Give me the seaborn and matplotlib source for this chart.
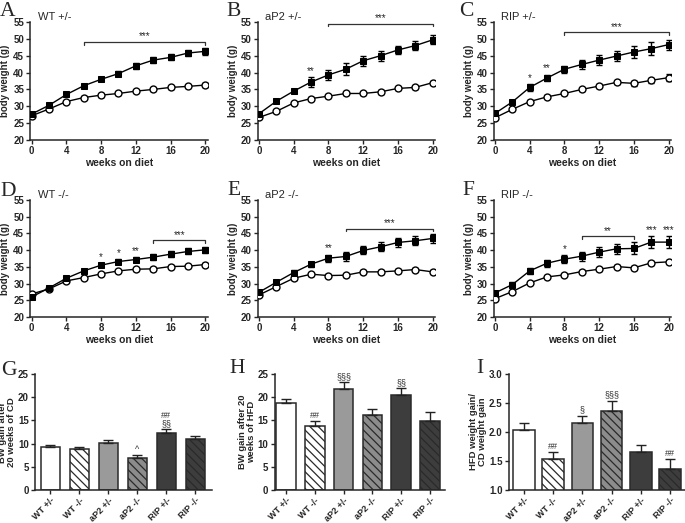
import matplotlib
matplotlib.use("Agg")
import matplotlib.pyplot as plt
import seaborn as sns
import pandas as pd

# weeks on diet (x axis of panels A-F)
weeks = [0, 2, 4, 6, 8, 10, 12, 14, 16, 18, 20]

# body weight (g), HFD = filled squares, CD = open circles
wt_het_hfd = [27.7, 30.3, 33.5, 36.1, 38.0, 39.7, 42.0, 43.7, 44.5, 45.8, 46.3]
wt_het_hfd_sem = [0.4, 0.5, 0.5, 0.5, 0.6, 0.7, 0.8, 0.8, 0.9, 0.9, 1.0]
wt_het_cd = [27.2, 29.2, 31.4, 32.6, 33.3, 33.8, 34.5, 35.0, 35.6, 35.9, 36.3]
wt_het_cd_sem = [0.3, 0.3, 0.3, 0.4, 0.4, 0.4, 0.4, 0.5, 0.5, 0.5, 0.5]

ap2_het_hfd = [27.8, 31.5, 34.5, 37.2, 39.3, 41.0, 43.5, 45.0, 46.7, 48.0, 49.7]
ap2_het_hfd_sem = [0.6, 0.6, 0.7, 1.5, 1.5, 1.7, 1.5, 1.5, 1.2, 1.3, 1.3]
ap2_het_cd = [26.7, 28.5, 31.0, 32.3, 33.0, 33.8, 33.8, 34.3, 35.3, 35.6, 37.0]
ap2_het_cd_sem = [0.3, 0.3, 0.3, 0.4, 0.4, 0.5, 0.5, 0.6, 0.5, 0.5, 0.5]

rip_het_hfd = [27.9, 31.3, 35.6, 38.4, 41.0, 42.4, 43.7, 44.9, 46.1, 47.1, 48.3]
rip_het_hfd_sem = [0.6, 0.7, 1.0, 1.0, 1.0, 1.2, 1.5, 1.5, 1.7, 2.0, 1.5]
rip_het_cd = [26.6, 29.1, 31.4, 32.8, 33.8, 35.0, 36.0, 37.1, 36.8, 37.7, 38.5]
rip_het_cd_sem = [0.4, 0.4, 0.4, 0.4, 0.5, 0.5, 0.5, 0.5, 0.7, 0.7, 1.0]

wt_ko_hfd = [26.0, 28.7, 31.6, 33.8, 35.5, 36.6, 37.2, 37.9, 38.8, 39.6, 40.1]
wt_ko_hfd_sem = [0.5, 0.5, 0.5, 0.5, 0.6, 0.7, 0.7, 0.8, 0.8, 0.9, 0.9]
wt_ko_cd = [26.9, 28.4, 30.8, 31.8, 32.9, 33.8, 34.3, 34.4, 35.1, 35.2, 35.7]
wt_ko_cd_sem = [0.3, 0.3, 0.3, 0.4, 0.4, 0.4, 0.4, 0.5, 0.5, 0.5, 0.5]

ap2_ko_hfd = [27.4, 30.4, 33.3, 35.8, 37.6, 38.1, 39.9, 41.0, 42.3, 42.8, 43.5]
ap2_ko_hfd_sem = [0.6, 0.6, 0.7, 0.8, 1.0, 1.2, 1.2, 1.3, 1.4, 1.4, 1.3]
ap2_ko_cd = [26.6, 29.1, 31.6, 32.8, 32.4, 32.5, 33.5, 33.5, 33.8, 34.2, 33.5]
ap2_ko_cd_sem = [0.4, 0.4, 0.4, 0.4, 0.5, 0.5, 0.7, 0.7, 0.6, 0.5, 0.5]

rip_ko_hfd = [27.2, 29.7, 33.8, 36.1, 37.3, 38.2, 39.4, 40.4, 40.5, 42.4, 42.4]
rip_ko_hfd_sem = [0.6, 0.7, 0.8, 1.0, 1.2, 1.3, 1.5, 1.5, 1.8, 1.8, 1.8]
rip_ko_cd = [25.5, 27.6, 30.2, 32.0, 32.6, 33.6, 34.3, 35.1, 34.7, 36.2, 36.5]
rip_ko_cd_sem = [0.4, 0.4, 0.4, 0.4, 0.4, 0.5, 0.5, 0.5, 0.7, 0.6, 0.5]

# bar panels G-I
groups = ["WT +/-", "WT -/-", "aP2 +/-", "aP2 -/-", "RIP +/-", "RIP -/-"]
gain_cd = [9.2, 8.84, 10.2, 6.82, 12.28, 10.9]
gain_cd_sem = [0.43, 0.43, 0.65, 0.65, 0.86, 0.65]
gain_cd_marks = ["", "", "", "^", "##\n§§", ""]
gain_hfd = [18.7, 13.9, 21.8, 16.2, 20.4, 14.9]
gain_hfd_sem = [1.0, 1.0, 1.4, 1.2, 1.5, 1.9]
gain_hfd_marks = ["", "##", "§§§", "", "§§", ""]
gain_ratio = [2.04, 1.53, 2.15, 2.36, 1.66, 1.37]
gain_ratio_sem = [0.11, 0.12, 0.13, 0.18, 0.12, 0.17]
gain_ratio_marks = ["", "##", "§", "§§§", "", "##"]

bar_colors = ["white", "white", "#9a9a9a", "#8c8c8c", "#3d3d3d", "#3d3d3d"]
bar_hatch = ["", "\\\\\\\\", "", "\\\\\\\\", "", "\\\\\\\\"]

sns.set_style("ticks")
plt.rcParams["font.family"] = ["Liberation Sans", "DejaVu Sans"]
plt.rcParams["font.weight"] = "bold"
plt.rcParams["hatch.linewidth"] = 0.9
plt.rcParams["axes.linewidth"] = 1.1

W, H = 685, 523
fig = plt.figure(figsize=(W / 100, H / 100), dpi=100)


def add_ax(left, top, width, height):
    return fig.add_axes([left / W, 1 - (top + height) / H, width / W, height / H])


def letter(x, y, s):
    # panel letter, baseline given in pixels from the top-left corner
    fig.text(x / W, 1 - y / H, s, fontsize=15.5, family="Liberation Serif",
             fontweight="normal", va="baseline", ha="left")


def style_ax(ax):
    sns.despine(ax=ax)
    ax.tick_params(axis="both", labelsize=7, length=3, width=1, pad=1.5)
    for lab in ax.get_xticklabels() + ax.get_yticklabels():
        lab.set_fontweight("bold")


def line_panel(ax, hfd, hfd_sem, cd, cd_sem, title, brackets, stars):
    ax.errorbar(weeks, hfd, yerr=hfd_sem, fmt="none", ecolor="black",
                elinewidth=1, capsize=2.5, capthick=1, zorder=2)
    ax.errorbar(weeks, cd, yerr=cd_sem, fmt="none", ecolor="black",
                elinewidth=1, capsize=2.5, capthick=1, zorder=2)
    sns.lineplot(x=weeks, y=cd, ax=ax, color="black", linewidth=1, marker="o",
                 markersize=5, markerfacecolor="white", markeredgecolor="black",
                 markeredgewidth=1, zorder=3)
    sns.lineplot(x=weeks, y=hfd, ax=ax, color="black", linewidth=1, marker="s",
                 markersize=5, markerfacecolor="black", markeredgecolor="black",
                 zorder=4)
    ax.set_xlim(-0.15, 20.3)
    ax.set_ylim(20, 55)
    ax.set_xticks([0, 4, 8, 12, 16, 20])
    ax.set_yticks(range(20, 56, 5))
    ax.set_xlabel("weeks on diet", fontsize=7.5, fontweight="bold", labelpad=1)
    ax.set_ylabel("body weight (g)", fontsize=7, fontweight="bold", labelpad=2)
    style_ax(ax)
    for x0, x1, y, lab in brackets:
        ax.plot([x0, x0, x1, x1], [y - 0.8, y, y, y - 0.8], color="#333333",
                lw=0.9, clip_on=False)
        ax.text((x0 + x1) / 2, y + 0.1, lab, ha="center", va="bottom",
                fontsize=7, fontweight="normal", clip_on=False)
    for i, lab in stars:
        ax.text(weeks[i], hfd[i] + hfd_sem[i] + 0.4, lab, ha="center",
                va="bottom", fontsize=7, fontweight="normal")
    ax.text(0.04, 1.0, title, transform=ax.transAxes, fontsize=8,
            fontweight="normal", va="bottom", ha="left")


def bar_panel(ax, vals, sems, marks, ylabel, ylim, yticks, xlim, width,
              fmt="{:g}"):
    df = pd.DataFrame({"group": groups, "value": vals})
    sns.barplot(data=df, x="group", y="value", hue="group", palette=bar_colors,
                legend=False, width=width, ax=ax, edgecolor="#2a2a2a",
                linewidth=1.1, saturation=1)
    for patch, hatch in zip(ax.patches, bar_hatch):
        patch.set_hatch(hatch)
    pos = list(range(len(groups)))
    ax.errorbar(pos, vals, yerr=[[0] * len(sems), sems], fmt="none",
                ecolor="#222222", elinewidth=1, capsize=3.5, capthick=1, zorder=3)
    step = (ylim[1] - ylim[0]) / 100
    for p, v, s, m in zip(pos, vals, sems, marks):
        if m:
            ax.text(p, v + s + step, m, ha="center", va="bottom", fontsize=6.5,
                    fontweight="normal", linespacing=0.85, color="#333333")
    ax.set_xlim(*xlim)
    ax.set_ylim(*ylim)
    ax.set_yticks(yticks)
    ax.set_yticklabels([fmt.format(t) for t in yticks])
    ax.set_xlabel("")
    ax.set_ylabel(ylabel, fontsize=6.8, fontweight="bold", labelpad=1,
                  linespacing=1.0)
    style_ax(ax)
    ax.set_xticks(pos)
    ax.set_xticklabels(groups, rotation=45, ha="right", rotation_mode="anchor",
                       fontsize=6.5, fontweight="bold")


line_lefts = [30.4, 257.7, 493.7]
row_tops = [22, 200]
line_w = 177.5

line_panel(add_ax(line_lefts[0], row_tops[0], line_w, 118), wt_het_hfd,
           wt_het_hfd_sem, wt_het_cd, wt_het_cd_sem, "WT +/-",
           [(6, 20, 49.1, "***")], [])
line_panel(add_ax(line_lefts[1], row_tops[0], line_w, 118), ap2_het_hfd,
           ap2_het_hfd_sem, ap2_het_cd, ap2_het_cd_sem, "aP2 +/-",
           [(8, 20, 54.5, "***")], [(3, "**")])
line_panel(add_ax(line_lefts[2], row_tops[0], line_w, 118), rip_het_hfd,
           rip_het_hfd_sem, rip_het_cd, rip_het_cd_sem, "RIP +/-",
           [(8, 20, 52.0, "***")], [(2, "*"), (3, "**")])
line_panel(add_ax(line_lefts[0], row_tops[1], line_w, 117), wt_ko_hfd,
           wt_ko_hfd_sem, wt_ko_cd, wt_ko_cd_sem, "WT -/-",
           [(14, 20, 43.0, "***")], [(4, "*"), (5, "*"), (6, "**")])
line_panel(add_ax(line_lefts[1], row_tops[1], line_w, 117), ap2_ko_hfd,
           ap2_ko_hfd_sem, ap2_ko_cd, ap2_ko_cd_sem, "aP2 -/-",
           [(10, 20, 46.4, "***")], [(4, "**")])
line_panel(add_ax(line_lefts[2], row_tops[1], line_w, 117), rip_ko_hfd,
           rip_ko_hfd_sem, rip_ko_cd, rip_ko_cd_sem, "RIP -/-",
           [(10, 16, 44.2, "**")], [(4, "*"), (9, "***"), (10, "***")])

bar_panel(add_ax(35, 374, 177, 116), gain_cd, gain_cd_sem, gain_cd_marks,
          "BW gain after\n20 weeks of CD", (0, 25), [0, 5, 10, 15, 20, 25],
          (-0.53, 5.57), 0.68)
bar_panel(add_ax(274.5, 374, 170, 116), gain_hfd, gain_hfd_sem, gain_hfd_marks,
          "BW gain after 20\nweeks of HFD", (0, 25), [0, 5, 10, 15, 20, 25],
          (-0.4, 5.5), 0.68)
bar_panel(add_ax(508.7, 374, 176, 116), gain_ratio, gain_ratio_sem,
          gain_ratio_marks, "HFD weight gain/\nCD weight gain", (1.0, 3.0),
          [1.0, 1.5, 2.0, 2.5, 3.0], (-0.52, 5.5), 0.74, fmt="{:.1f}")

for x, y, s in [(0, 16, "A"), (226, 16, "B"), (459, 16, "C"),
                (0, 196, "D"), (227, 195, "E"), (462, 195, "F"),
                (1, 375, "G"), (229, 373, "H"), (476, 373, "I")]:
    letter(x, y, s)

fig.savefig("out.png", dpi=100, facecolor="white")
